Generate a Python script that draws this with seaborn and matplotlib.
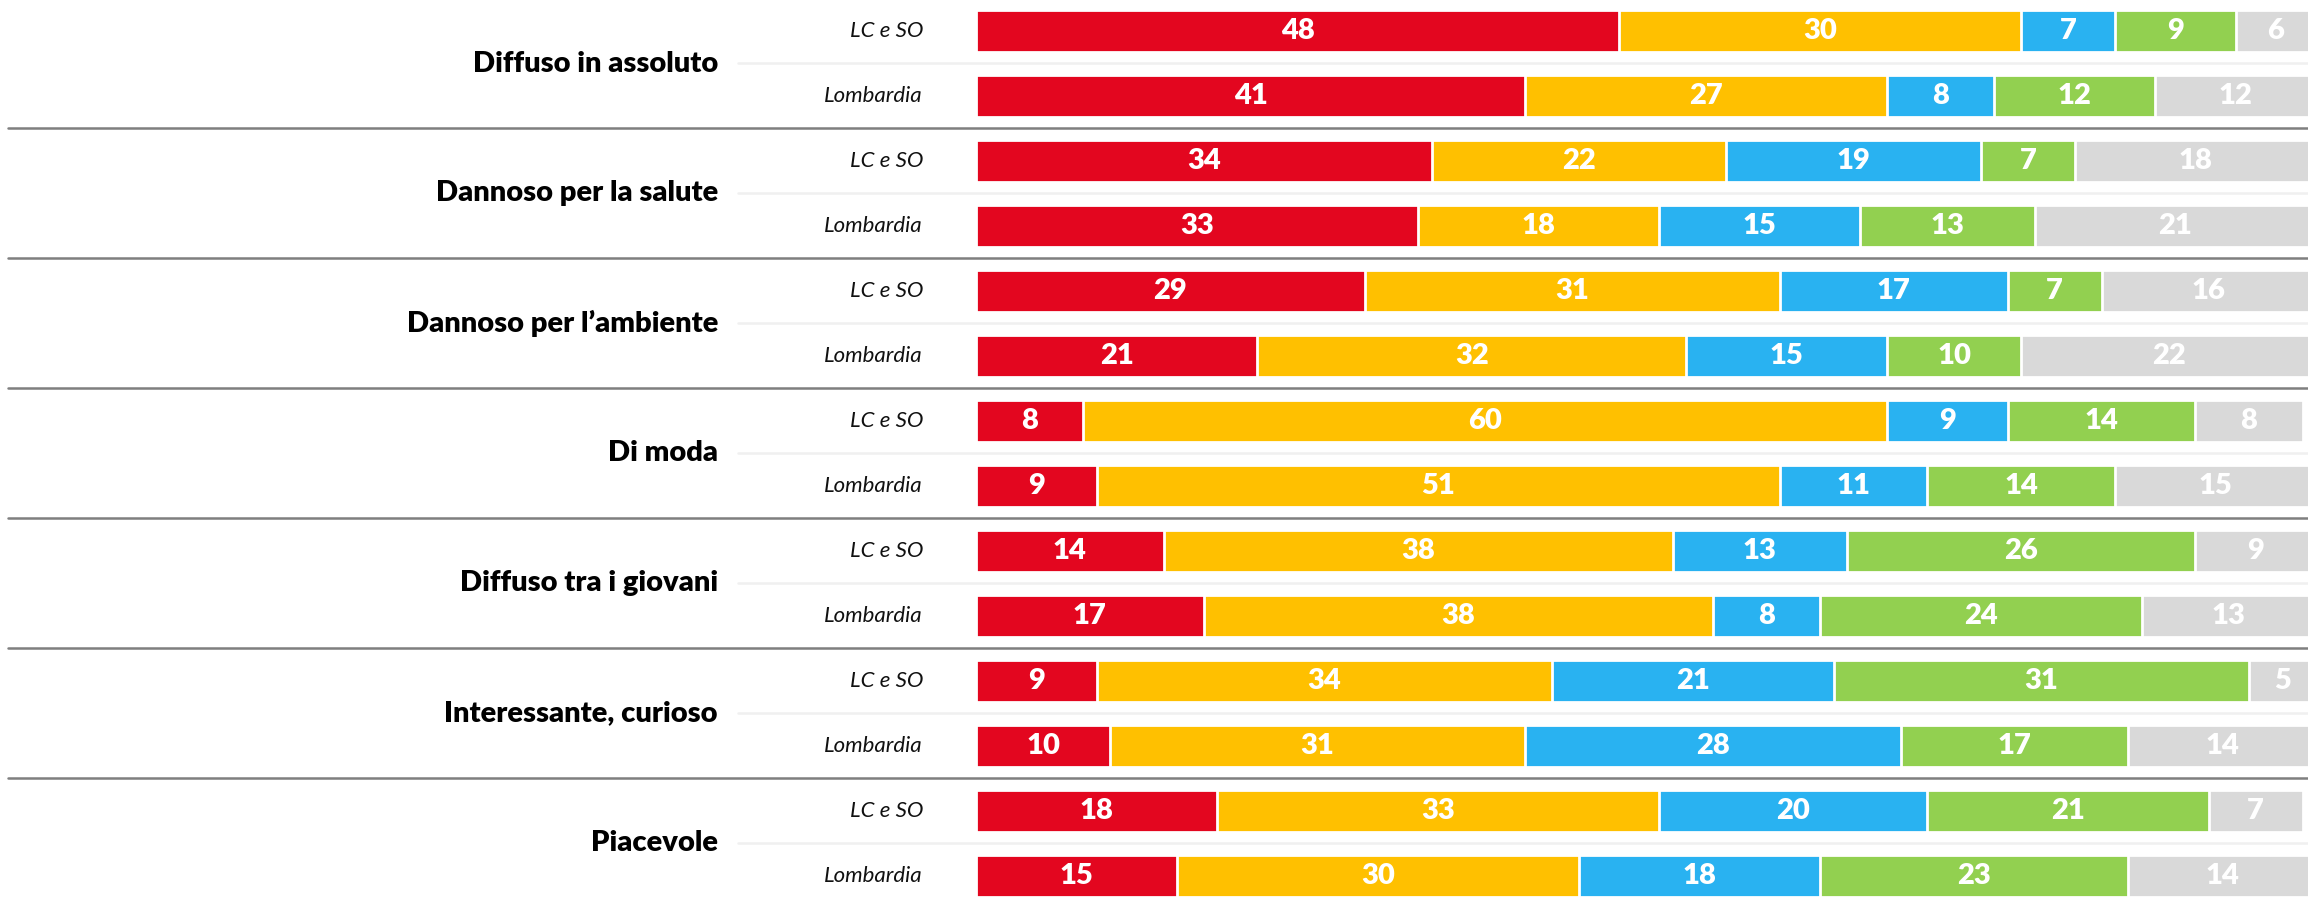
import numpy as np
import pandas as pd
import matplotlib.pyplot as plt
import seaborn as sns

# dati (percentuali)
voci = ["Diffuso in assoluto", "Dannoso per la salute", "Dannoso per l\u2019ambiente",
        "Di moda", "Diffuso tra i giovani", "Interessante, curioso", "Piacevole"]
aree = ["LC e SO", "Lombardia"]

rosso  = [48, 41, 34, 33, 29, 21, 8, 9, 14, 17, 9, 10, 18, 15]
giallo = [30, 27, 22, 18, 31, 32, 60, 51, 38, 38, 34, 31, 33, 30]
blu    = [7, 8, 19, 15, 17, 15, 9, 11, 13, 8, 21, 28, 20, 18]
verde  = [9, 12, 7, 13, 7, 10, 14, 14, 26, 24, 31, 17, 21, 23]
grigio = [6, 12, 18, 21, 16, 22, 8, 15, 9, 13, 5, 14, 7, 14]

serie = [rosso, giallo, blu, verde, grigio]
colori = ["#E3061F", "#FFC000", "#29B2F1", "#92D050", "#D9D9D9"]

sns.set_theme(style="white")
plt.rcParams['font.family'] = ['Lato', 'DejaVu Sans']

righe = [v + "|" + a for v in voci for a in aree]
df = pd.DataFrame({"riga": righe})
valori = np.array(serie)
cum = valori.cumsum(axis=0)

fig = plt.figure(figsize=(23.08, 9.02), dpi=100)
ax = fig.add_axes([0, 0, 1, 1])

# barre sovrapposte: dalla somma totale fino al primo segmento
for k in range(len(serie) - 1, -1, -1):
    df["cum"] = cum[k]
    sns.barplot(data=df, x="cum", y="riga", order=righe, orient="h", color=colori[k],
                saturation=1, width=0.65, edgecolor="white", linewidth=2, ax=ax, zorder=3)

# etichette dei valori
for i in range(len(righe)):
    inizio = 0
    for k in range(len(serie)):
        v = valori[k][i]
        ax.text(inizio + v / 2, i, str(v), ha="center", va="center", color="white",
                fontsize=21, fontweight="heavy", zorder=5)
        inizio += v

scala = 13.4  # pixel per punto percentuale
x0 = 976
ax.set_xlim(-x0 / scala, (2308 - x0) / scala)
ax.set_ylim(13.4, -31 / 65)

for i, r in enumerate(righe):
    ax.text((923 - x0) / scala, i, r.split("|")[1], ha="right", va="center",
            fontsize=16, fontstyle="italic", color="#111111")

for g, v in enumerate(voci):
    ax.text((718 - x0) / scala, 2 * g + 0.5, v, ha="right", va="center",
            fontsize=21, fontweight="heavy", color="black")
    ax.plot([(738 - x0) / scala, 100], [2 * g + 0.5] * 2, color="#F0F0F0", lw=1.8, zorder=1)
    if g < len(voci) - 1:
        ax.plot([(8 - x0) / scala, 100], [2 * g + 1.5] * 2, color="#7F7F7F", lw=1.8, zorder=1)

ax.axis("off")
fig.savefig("out.png", dpi=100)
